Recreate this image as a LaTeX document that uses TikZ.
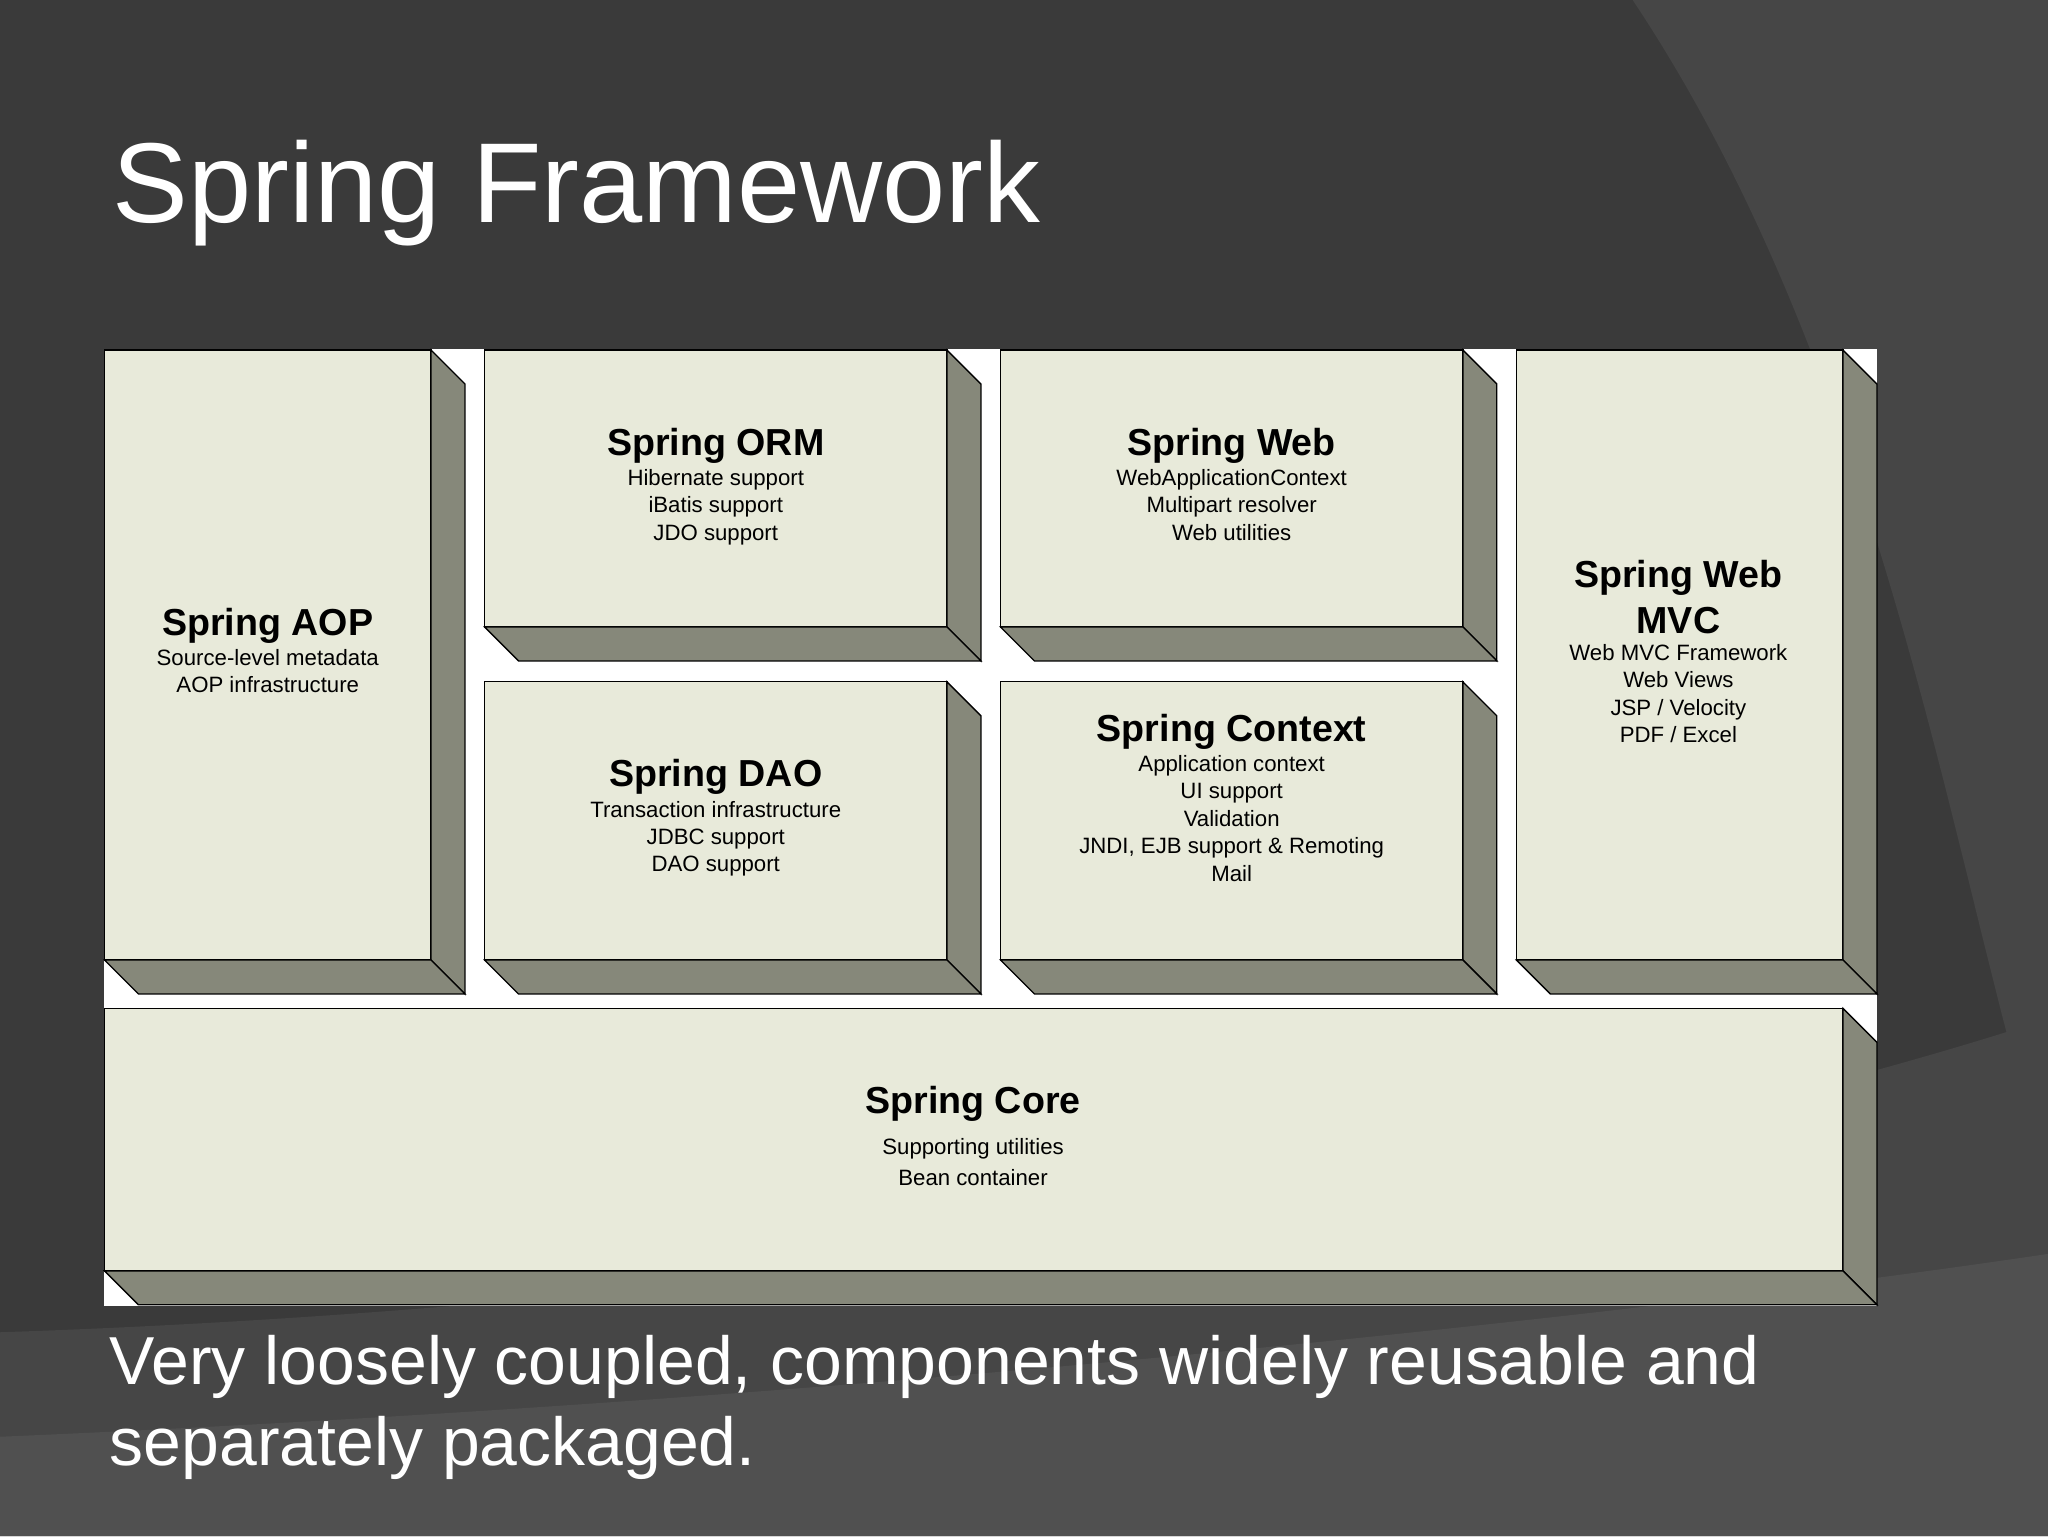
\documentclass[tikz,border=0pt]{standalone}
\usepackage{fontspec}
\setmainfont{Liberation Sans}
\definecolor{bgA}{HTML}{3A3A3A}
\definecolor{bgB}{HTML}{464646}
\definecolor{bgC}{HTML}{505050}
\definecolor{face}{HTML}{E8EADA}
\definecolor{bevel}{HTML}{86887A}
\tikzset{ttl/.style={font=\fontsize{28.8}{30}\selectfont\bfseries,align=center,inner sep=0},
 sub/.style={font=\fontsize{17}{21}\selectfont,align=center,inner sep=0}}
\newcommand{\mybox}[5]{% x1,y1,x2,y2,name
 \fill[face,draw=black,line width=1pt] (#1,#2) rectangle (#3,#4);
 \filldraw[fill=bevel,draw=black,line width=1pt] (#3,#2)--(#3+26,#2+26)--(#3+26,#4+26)--(#3,#4)--cycle;
 \filldraw[fill=bevel,draw=black,line width=1pt] (#1,#4)--(#3,#4)--(#3+26,#4+26)--(#1+26,#4+26)--cycle;
 \coordinate (#5) at ({(#1+#3)/2},{(#2+#4)/2});}
\begin{document}
\begin{tikzpicture}[x=1pt,y=-1pt]
\useasboundingbox (0,0) rectangle (1568,1176);
\fill[bgA] (0,0) rectangle (1568,1176);
\fill[bgB] (1250,0) .. controls (1450,300) and (1500,700) .. (1568,900) -- (1568,0) -- cycle;
\fill[bgB] (0,1176) -- (0,1020) .. controls (600,1000) and (1200,900) .. (1568,780) -- (1568,1176) -- cycle;
\fill[bgC] (0,1176) -- (0,1100) .. controls (700,1070) and (1300,1000) .. (1568,960) -- (1568,1176) -- cycle;
\node[anchor=west,text=white,font=\fontsize{87}{90}\selectfont,inner sep=0] (title) at (86,148) {Spring Framework};
\fill[white] (80,267) rectangle (1437,1000);
\mybox{80}{268}{330}{735}{aop}
\mybox{371}{268}{725}{480}{orm}
\mybox{766}{268}{1120}{480}{web}
\mybox{371}{522}{725}{735}{dao}
\mybox{766}{522}{1120}{735}{ctx}
\mybox{1161}{268}{1411}{735}{mvc}
\mybox{80}{772}{1411}{973}{core}
\node[ttl] (t1) at (205,479) {Spring AOP};
\node[sub,anchor=north] (s1) at (205,497) {Source-level metadata\\AOP infrastructure};
\node[ttl] (t2) at (548,341) {Spring ORM};
\node[sub,anchor=north] (s2) at (548,359) {Hibernate support\\iBatis support\\JDO support};
\node[ttl] (t3) at (943,341) {Spring Web};
\node[sub,anchor=north] (s3) at (943,359) {WebApplicationContext\\Multipart resolver\\Web utilities};
\node[ttl] (t4) at (548,595) {Spring DAO};
\node[sub,anchor=north] (s4) at (548,613) {Transaction infrastructure\\JDBC support\\DAO support};
\node[ttl] (t5) at (943,560) {Spring Context};
\node[sub,anchor=north] (s5) at (943,578) {Application context\\UI support\\Validation\\JNDI, EJB support \& Remoting\\Mail};
\node[ttl,font=\fontsize{28.8}{35}\selectfont\bfseries] (t6) at (1285,457) {Spring Web\\MVC};
\node[sub,anchor=north] (s6) at (1285,493) {Web MVC Framework\\Web Views\\JSP / Velocity\\PDF / Excel};
\node[ttl] (t7) at (745,845) {Spring Core};
\node[sub,anchor=north,font=\fontsize{17}{24}\selectfont] (s7) at (745,871) {Supporting utilities\\Bean container};
\node[anchor=north west,text=white,align=left,inner sep=0,font=\fontsize{52}{62}\selectfont] (cap) at (84,1022) {Very loosely coupled, components widely reusable and\\separately packaged.};
\end{tikzpicture}
\end{document}
